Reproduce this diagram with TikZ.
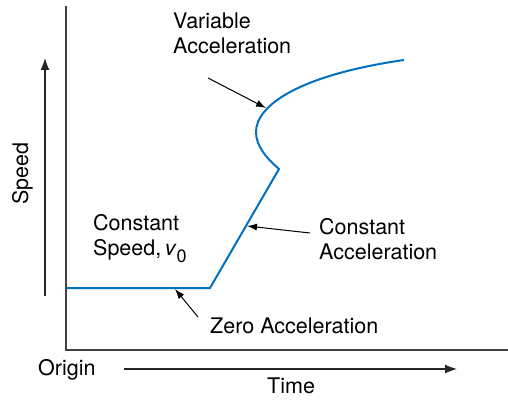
\documentclass[tikz,border=0pt]{standalone}
\usepackage{fontspec}
\setmainfont{TeX Gyre Heros}
\usetikzlibrary{arrows.meta}
\definecolor{curve_blue}{RGB}{0, 112, 192}
\definecolor{axis_grey}{RGB}{64, 64, 64}
\tikzstyle{lbl}=[inner sep=0pt,anchor=base west,align=left,
  font=\fontsize{21.5}{25}\selectfont]
\tikzstyle{axis}=[draw=axis_grey,line width=1.8pt,line join=miter]
\tikzstyle{trace}=[draw=curve_blue,line width=2pt,line join=miter]
\tikzstyle{pointer}=[draw=black,line width=1pt,-{Latex[length=10pt,width=7pt]}]
\tikzstyle{dirarrow}=[draw=black!85,line width=1.2pt,-{Latex[length=12pt,width=9pt]}]

\begin{document}
\begin{tikzpicture}[x=1pt,y=-1pt]
        \useasboundingbox (0,0) rectangle (508,401);
        % axes
        \coordinate (0) at (66,6);
        \coordinate (1) at (66,350);
        \coordinate (2) at (508,350);
        \draw [style=axis] (0) -- (1) -- (2);
        % speed curve
        \coordinate (3) at (66,288);
        \coordinate (4) at (210,288);
        \coordinate (5) at (279,169);
        \coordinate (6) at (256,132);
        \coordinate (7) at (404,60);
        \draw [style=trace] (3) -- (4) -- (5)
          .. controls (265,157) and (256,145) .. (6)
          .. controls (256,105) and (300,75) .. (7);
        % labels (base = last line)
        \node [style=lbl] (8) at (173,54) {Variable\\Acceleration};
        \node [style=lbl] (9) at (93,255) {Constant\\Speed,\,\textit{v}\raisebox{-7pt}{\fontsize{18}{18}\selectfont 0}};
        \node [style=lbl] (10) at (319,259) {Constant\\Acceleration};
        \node [style=lbl] (11) at (210,333) {Zero Acceleration};
        \node [style=lbl] (12) at (38,375) {Origin};
        \node [style=lbl] (13) at (267,393) {Time};
        \node [style=lbl,rotate=90] (14) at (28,205) {Speed};
        % pointers
        \coordinate (15) at (208,78);
        \coordinate (16) at (266,108);
        \coordinate (17) at (310,233);
        \coordinate (18) at (247,226);
        \coordinate (19) at (198,317);
        \coordinate (20) at (175,289);
        \draw [style=pointer] (15) to (16);
        \draw [style=pointer] (17) to (18);
        \draw [style=pointer] (19) to (20);
        % direction arrows
        \coordinate (21) at (45,296);
        \coordinate (22) at (45,58);
        \coordinate (23) at (124,369);
        \coordinate (24) at (457,369);
        \draw [style=dirarrow] (21) to (22);
        \draw [style=dirarrow] (23) to (24);
    \end{tikzpicture}
\end{document}
